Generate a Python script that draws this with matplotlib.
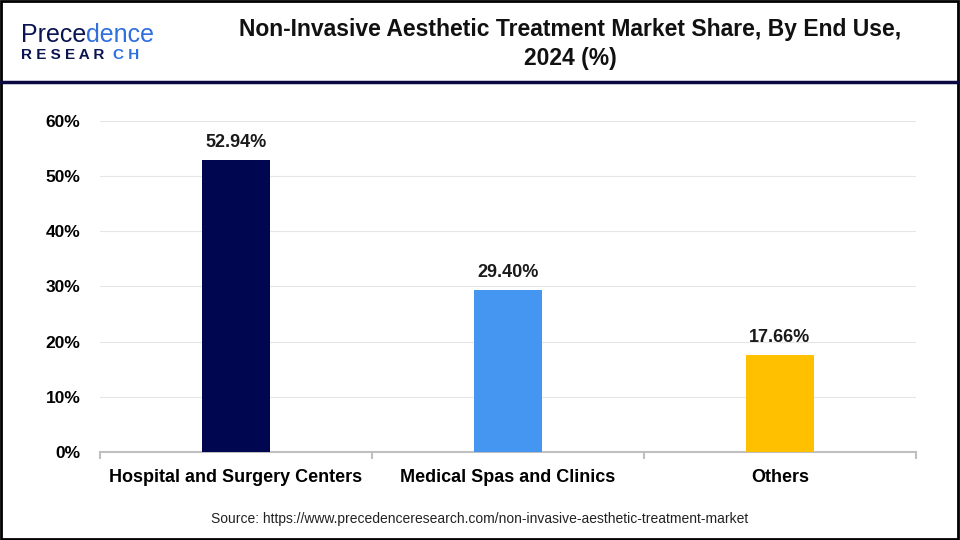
import matplotlib
matplotlib.use("Agg")
from matplotlib import pyplot as plt
from matplotlib.patches import Rectangle
from matplotlib.lines import Line2D

plt.rcParams['font.family'] = ['Liberation Sans', 'DejaVu Sans']

categories = ['Hospital and Surgery Centers', 'Medical Spas and Clinics', 'Others']
shares = [52.94, 29.40, 17.66]
labels = ['52.94%', '29.40%', '17.66%']
colors = ['#00064F', '#4596F0', '#FFC000']
yticks = [0, 10, 20, 30, 40, 50, 60]

fig = plt.figure(figsize=(9.6, 5.4), dpi=100)
ax = fig.add_axes([0.104, 0.163, 0.850, 0.613])

x = list(range(len(categories)))
ax.bar(x, shares, width=0.25, color=colors, zorder=3)
for xi, v, lab in zip(x, shares, labels):
    ax.text(xi, v + 1.6, lab, ha='center', va='bottom', fontsize=13,
            fontweight='bold', color='#1a1a1a')

ax.set_xlim(-0.5, 2.5)
ax.set_ylim(0, 60)
ax.set_yticks(yticks)
ax.set_yticklabels([f'{t}%' for t in yticks], fontsize=12.5, fontweight='bold')
ax.set_xticks(x)
ax.set_xticklabels(categories, fontsize=13, fontweight='bold')
ax.set_xticks([-0.5, 0.5, 1.5, 2.5], minor=True)
ax.tick_params(axis='x', which='major', length=0, pad=12)
ax.tick_params(axis='x', which='minor', length=5, color='#bfbfbf', width=1.5)
ax.tick_params(axis='y', length=0, pad=14)
ax.grid(axis='y', color='#e6e6e6', linewidth=0.8, zorder=0)
for s in ['top', 'right', 'left']:
    ax.spines[s].set_visible(False)
ax.spines['bottom'].set_color('#bfbfbf')
ax.spines['bottom'].set_linewidth(1.5)

fig.text(0.594, 0.945, 'Non-Invasive Aesthetic Treatment Market Share, By End Use,',
         ha='center', va='center', fontsize=16.5, fontweight='bold', color='#111111')
fig.text(0.594, 0.891, '2024 (%)', ha='center', va='center', fontsize=16.5,
         fontweight='bold', color='#111111')

# logo
fig.text(0.022, 0.935, 'Prece', fontsize=18, color='#0a1550', ha='left', va='center')
fig.text(0.090, 0.935, 'dence', fontsize=18, color='#2f6fe0', ha='left', va='center')
fig.text(0.022, 0.898, 'R E S E A R', fontsize=11, fontweight='bold', color='#0a1550',
         ha='left', va='center')
fig.text(0.118, 0.898, 'C H', fontsize=11, fontweight='bold', color='#2f6fe0',
         ha='left', va='center')

fig.text(0.5, 0.038, 'Source: https://www.precedenceresearch.com/non-invasive-aesthetic-treatment-market',
         ha='center', va='center', fontsize=10, color='#222222')

fig.add_artist(Line2D([0, 1], [0.849, 0.849], color='#0a0a40', linewidth=2.5,
                      transform=fig.transFigure))
fig.add_artist(Rectangle((0.001, 0.002), 0.997, 0.996, fill=False, edgecolor='black',
                         linewidth=2, transform=fig.transFigure))

fig.savefig('out.png', dpi=100)
